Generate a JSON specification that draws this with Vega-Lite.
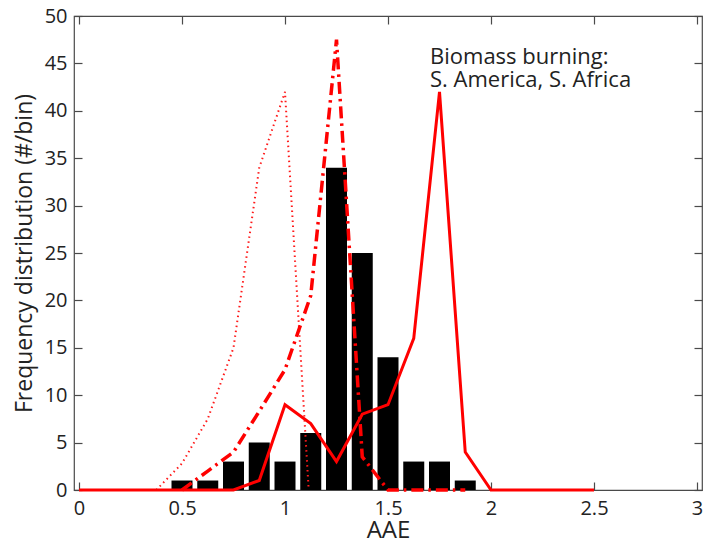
{
  "$schema": "https://vega.github.io/schema/vega-lite/v6.json",
  "autosize": "none",
  "width": 628,
  "height": 474,
  "padding": {"left": 74, "top": 16, "right": 4, "bottom": 53},
  "background": "white",
  "config": {
    "view": {"stroke": "#4a4a4a", "strokeWidth": 1.2},
    "font": "Open Sans",
    "axis": {"domain": false, "grid": false, "tickColor": "#4a4a4a", "tickWidth": 1.2, "labelFont": "Open Sans", "titleFont": "Open Sans", "labelColor": "#222", "titleColor": "#222", "titleFontWeight": "normal"}
  },
  "resolve": {"axis": {"x": "independent", "y": "independent"}},
  "datasets": {
    "bars": [
      {"aae": 0.5, "count": 1}, {"aae": 0.625, "count": 1}, {"aae": 0.75, "count": 3},
      {"aae": 0.875, "count": 5}, {"aae": 1.0, "count": 3}, {"aae": 1.125, "count": 6},
      {"aae": 1.25, "count": 34}, {"aae": 1.375, "count": 25}, {"aae": 1.5, "count": 14},
      {"aae": 1.625, "count": 3}, {"aae": 1.75, "count": 3}, {"aae": 1.875, "count": 1}
    ],
    "lines": [
      {"series": "dotted", "aae": 0.375, "freq": 0},
      {"series": "dotted", "aae": 0.5, "freq": 2.8},
      {"series": "dotted", "aae": 0.625, "freq": 7.5},
      {"series": "dotted", "aae": 0.75, "freq": 15},
      {"series": "dotted", "aae": 0.875, "freq": 34},
      {"series": "dotted", "aae": 1.0, "freq": 42},
      {"series": "dotted", "aae": 1.115, "freq": 0},
      {"series": "dashdot", "aae": 0.5, "freq": 0},
      {"series": "dashdot", "aae": 0.625, "freq": 2},
      {"series": "dashdot", "aae": 0.75, "freq": 4},
      {"series": "dashdot", "aae": 0.875, "freq": 8.3},
      {"series": "dashdot", "aae": 1.0, "freq": 12.7},
      {"series": "dashdot", "aae": 1.125, "freq": 20.5},
      {"series": "dashdot", "aae": 1.25, "freq": 47.5},
      {"series": "dashdot", "aae": 1.375, "freq": 3.5},
      {"series": "dashdot", "aae": 1.5, "freq": 0},
      {"series": "dashdot", "aae": 1.625, "freq": 0},
      {"series": "dashdot", "aae": 1.75, "freq": 0},
      {"series": "dashdot", "aae": 1.875, "freq": 0},
      {"series": "solid", "aae": 0, "freq": 0},
      {"series": "solid", "aae": 0.75, "freq": 0},
      {"series": "solid", "aae": 0.875, "freq": 1},
      {"series": "solid", "aae": 1.0, "freq": 9},
      {"series": "solid", "aae": 1.125, "freq": 7},
      {"series": "solid", "aae": 1.25, "freq": 3},
      {"series": "solid", "aae": 1.375, "freq": 8},
      {"series": "solid", "aae": 1.5, "freq": 9},
      {"series": "solid", "aae": 1.625, "freq": 16},
      {"series": "solid", "aae": 1.75, "freq": 42},
      {"series": "solid", "aae": 1.875, "freq": 4},
      {"series": "solid", "aae": 2.0, "freq": 0},
      {"series": "solid", "aae": 2.5, "freq": 0}
    ],
    "notes": [
      {"aae": 1.704, "freq": 44.9, "label": "Biomass burning:"},
      {"aae": 1.704, "freq": 42.55, "label": "S. America, S. Africa"}
    ]
  },
  "layer": [
    {
      "data": {"name": "bars"},
      "mark": {"type": "bar", "color": "black", "width": 21},
      "encoding": {
        "x": {"field": "aae", "type": "quantitative",
          "scale": {"domain": [0, 3], "nice": false},
          "axis": {"orient": "bottom", "values": [0, 0.5, 1, 1.5, 2, 2.5, 3], "tickSize": -8, "labelPadding": 16, "labelFontSize": 20, "title": "AAE", "titleFontSize": 24, "titlePadding": 0, "format": "~g"}},
        "y": {"field": "count", "type": "quantitative",
          "scale": {"domain": [0, 50], "nice": false},
          "axis": {"orient": "left", "values": [0, 5, 10, 15, 20, 25, 30, 35, 40, 45, 50], "tickSize": -8, "labelPadding": 15, "labelFontSize": 20, "title": "Frequency distribution (#/bin)", "titleFontSize": 23, "titlePadding": 8}}
      }
    },
    {
      "data": {"name": "bars"},
      "mark": {"type": "rule", "opacity": 0},
      "encoding": {
        "x": {"field": "aae", "type": "quantitative", "axis": {"orient": "top", "values": [0, 0.5, 1, 1.5, 2, 2.5, 3], "tickSize": -8, "labels": false, "title": null}},
        "y": {"field": "count", "type": "quantitative", "axis": {"orient": "right", "values": [0, 5, 10, 15, 20, 25, 30, 35, 40, 45, 50], "tickSize": -8, "labels": false, "title": null}}
      }
    },
    {
      "data": {"name": "lines"},
      "transform": [{"filter": "datum.series === 'dotted'"}],
      "mark": {"type": "line", "color": "#ff1a1a", "strokeWidth": 2, "strokeDash": [1.5, 3.5]},
      "encoding": {
        "x": {"field": "aae", "type": "quantitative", "axis": null},
        "y": {"field": "freq", "type": "quantitative", "axis": null},
        "order": {"field": "aae"}
      }
    },
    {
      "data": {"name": "lines"},
      "transform": [{"filter": "datum.series === 'dashdot'"}],
      "mark": {"type": "line", "color": "#ff0000", "strokeWidth": 3.5, "strokeDash": [12, 5, 2.5, 5]},
      "encoding": {
        "x": {"field": "aae", "type": "quantitative", "axis": null},
        "y": {"field": "freq", "type": "quantitative", "axis": null},
        "order": {"field": "aae"}
      }
    },
    {
      "data": {"name": "lines"},
      "transform": [{"filter": "datum.series === 'solid'"}],
      "mark": {"type": "line", "color": "#ff0000", "strokeWidth": 3},
      "encoding": {
        "x": {"field": "aae", "type": "quantitative", "axis": null},
        "y": {"field": "freq", "type": "quantitative", "axis": null},
        "order": {"field": "aae"}
      }
    },
    {
      "data": {"name": "notes"},
      "mark": {"type": "text", "align": "left", "baseline": "alphabetic", "fontSize": 22, "color": "#222", "font": "Open Sans"},
      "encoding": {
        "x": {"field": "aae", "type": "quantitative", "axis": null},
        "y": {"field": "freq", "type": "quantitative", "axis": null},
        "text": {"field": "label"}
      }
    }
  ]
}
